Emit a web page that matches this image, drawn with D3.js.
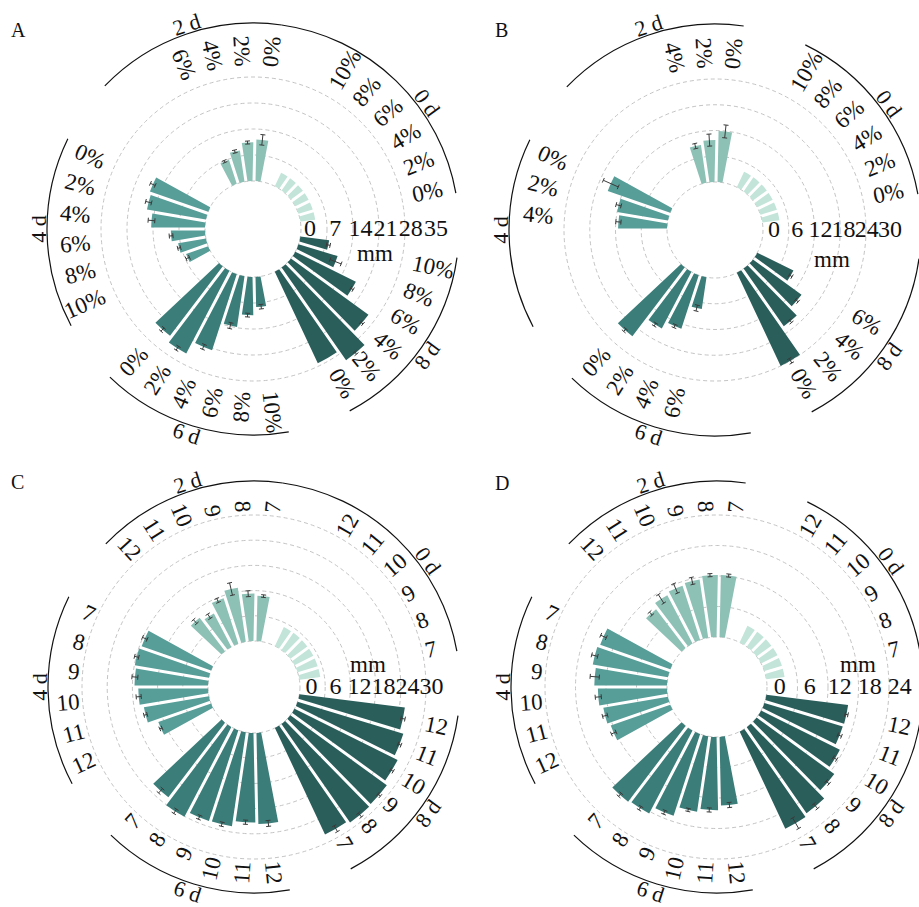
<!DOCTYPE html>
<html><head><meta charset="utf-8">
<script src="https://cdn.jsdelivr.net/npm/d3@7"></script>
<style>body{margin:0;background:#fff}svg text{font-family:"Liberation Serif","Times New Roman",serif;fill:#111}</style>
</head><body><svg id="chart" width="919" height="907"></svg>
<script>
// ---------------- data ----------------
const groupNames = ["0 d", "2 d", "4 d", "6 d", "8 d"];
const percentLabels = ["0%", "2%", "4%", "6%", "8%", "10%"];
const phLabels = ["7", "8", "9", "10", "11", "12"];

// Panel A: colony diameter (mm) by concentration, per day
const valuesA = [
  [4.0, 4.0, 4.0, 4.0, 4.0, 4.0],
  [11.2, 10.4, 8.5, 6.8],
  [16.6, 16.1, 14.5, 9.2, 7.6, 6.3],
  [23.5, 25.1, 21.5, 13.8, 10.3, 8.1],
  [27.2, 30.4, 25.8, 18.2, 11.0, 7.8]
];
const errorsA = [
  [0, 0, 0, 0, 0, 0],
  [1.4, 0.4, 0.4, 0.3],
  [0.7, 0.8, 0.9, 0.5, 0.4, 0.5],
  [0.6, 0.6, 0.7, 0.8, 0.5, 0.6],
  [0, 0.4, 0.4, 0.4, 1.6, 0.5]
];
const ticksA = [0, 7, 14, 21, 28, 35];
const gridA = [0, 7, 14, 21, 28];

// Panel B
const valuesB = [
  [4.0, 4.0, 4.0, 4.0, 4.0, 4.0],
  [11.9, 9.8, 8.9],
  [15.4, 12.0, 11.4],
  [20.2, 14.9, 13.1, 7.5],
  [24.0, 16.4, 14.0, 9.4]
];
const errorsB = [
  [0, 0, 0, 0, 0, 0],
  [1.5, 1.4, 0.6],
  [1.9, 0.6, 0.6],
  [0.4, 0.4, 0.4, 0.7],
  [0.6, 0.4, 0.4, 0.4]
];
const ticksB = [0, 6, 12, 18, 24, 30];
const gridB = [0, 6, 12, 18, 24];

// Panel C: by pH
const valuesC = [
  [5.0, 5.0, 5.0, 5.0, 5.0, 5.0],
  [10.8, 11.3, 13.0, 11.4, 9.0, 10.0],
  [17.5, 17.9, 17.5, 16.6, 15.7, 13.3],
  [22.3, 24.1, 22.7, 22.6, 21.3, 21.7],
  [28.0, 28.6, 28.4, 27.4, 26.3, 25.3]
];
const errorsC = [
  [0, 0, 0, 0, 0, 0],
  [0.3, 0.7, 1.5, 0.5, 0.6, 0.6],
  [0.6, 0.5, 0.7, 0.6, 0.4, 0.3],
  [0.7, 0.6, 0.5, 0.5, 0.5, 0.7],
  [0.8, 0.6, 0.4, 0.4, 0.4, 0.5]
];
const ticksC = [0, 6, 12, 18, 24, 30];
const gridC = [0, 6, 12, 18, 24, 30];

// Panel D
const valuesD = [
  [3.6, 3.6, 3.6, 3.6, 3.6, 3.6],
  [12.2, 12.2, 11.6, 11.2, 10.7, 9.6],
  [14.6, 15.0, 14.3, 13.6, 12.9, 12.4],
  [18.7, 18.4, 16.9, 15.0, 14.4, 13.5],
  [21.1, 20.6, 18.9, 17.3, 16.1, 16.2]
];
const errorsD = [
  [0, 0, 0, 0, 0, 0],
  [0.3, 0.3, 0.7, 1.0, 1.0, 0.4],
  [0.6, 0.6, 0.9, 0.6, 0.5, 0.5],
  [0.4, 0.4, 0.4, 0.3, 0.4, 0.5],
  [1.2, 0.6, 0.4, 0.4, 0.4, 0.3]
];
const ticksD = [0, 6, 12, 18, 24];
const gridD = [0, 6, 12, 18, 24];

const groupColors = ["#c2e4d9", "#8dc1b6", "#579d98", "#3b7d79", "#2a5e5b"];

// ---------------- layout ----------------
const panels = [
  {letter: "A", lx: 11, ly: 37, values: valuesA, errors: errorsA, labels: percentLabels, ticks: ticksA, grid: gridA,
   cx: 253, cy: 229, r0: 48, gMax: 28, rMax: 152, labelR: 163, tickR: [57, 183], mmX: 122, mmY: 24, joinTop: true},
  {letter: "B", lx: 495, ly: 37, values: valuesB, errors: errorsB, labels: percentLabels, ticks: ticksB, grid: gridB,
   cx: 715, cy: 230, r0: 48, gMax: 24, rMax: 151, labelR: 162, tickR: [59, 175], mmX: 117, mmY: 29, joinTop: false},
  {letter: "C", lx: 11, ly: 489, values: valuesC, errors: errorsC, labels: phLabels, ticks: ticksC, grid: gridC,
   cx: 254, cy: 687, r0: 46, gMax: 30, rMax: 172, labelR: 175, tickR: [57.5, 177.5], mmX: 114, mmY: -23, joinTop: true},
  {letter: "D", lx: 495, ly: 490, values: valuesD, errors: errorsD, labels: phLabels, ticks: ticksD, grid: gridD,
   cx: 717, cy: 687, r0: 50, gMax: 24, rMax: 172, labelR: 175, tickR: [62.7, 182.7], mmX: 141, mmY: -23, joinTop: false}
];

const svg = d3.select("#chart");
const slot = 9.6;            // degrees per bar slot
const groupCenter = g => 36 + 72 * g;
const rad = d => d * Math.PI / 180;
const FS = 23;

panels.forEach(p => {
  const g = svg.append("g");
  const rs = d3.scaleLinear().domain([0, p.gMax]).range([p.r0, p.rMax]);
  const pt = (r, th) => [p.cx + r * Math.cos(rad(th)), p.cy - r * Math.sin(rad(th))];

  // grid circles
  g.selectAll("circle.grid").data(p.grid).join("circle")
    .attr("cx", p.cx).attr("cy", p.cy).attr("r", d => rs(d))
    .attr("fill", "none").attr("stroke", "#c4c4c4").attr("stroke-width", 1)
    .attr("stroke-dasharray", "4,3");

  // bars
  const arc = d3.arc().padAngle(0.03).padRadius(100);
  const barData = [];
  p.values.forEach((arr, gi) => arr.forEach((v, i) => {
    const th = groupCenter(gi) + (i - 2.5) * slot;
    barData.push({gi, i, v, e: p.errors[gi][i], th});
  }));
  g.selectAll("path.bar").data(barData).join("path")
    .attr("transform", `translate(${p.cx},${p.cy})`)
    .attr("d", d => arc({innerRadius: p.r0, outerRadius: rs(d.v),
      startAngle: rad(90 - d.th - slot / 2), endAngle: rad(90 - d.th + slot / 2)}))
    .attr("fill", d => groupColors[d.gi]);

  // error bars
  const eb = g.selectAll("g.err").data(barData.filter(d => d.e > 0)).join("g");
  eb.each(function (d) {
    const s = d3.select(this);
    const ra = rs(d.v - d.e), rb = rs(d.v + d.e);
    const a = pt(ra, d.th), b = pt(rb, d.th);
    s.append("line").attr("x1", a[0]).attr("y1", a[1]).attr("x2", b[0]).attr("y2", b[1]);
    const tx = Math.sin(rad(d.th)) * 2.5, ty = Math.cos(rad(d.th)) * 2.5;
    [a, b].forEach(q => s.append("line")
      .attr("x1", q[0] - tx).attr("y1", q[1] - ty).attr("x2", q[0] + tx).attr("y2", q[1] + ty));
  });
  eb.selectAll("line").attr("stroke", "#3a3a3a").attr("stroke-width", 1);

  // category labels
  g.selectAll("text.cat").data(barData).join("text")
    .attr("font-size", FS)
    .attr("dominant-baseline", "central")
    .attr("text-anchor", d => { const t = (d.th % 360 + 360) % 360; return (t > 90 && t < 270) ? "end" : "start"; })
    .attr("transform", d => {
      const t = (d.th % 360 + 360) % 360;
      const [x, y] = pt(p.labelR, d.th);
      const rot = (t > 90 && t < 270) ? 180 - t : -t;
      return `translate(${x},${y}) rotate(${rot})`;
    })
    .text(d => p.labels[d.i]);

  // group arcs
  const spans = groupNames.map((n, gi) => {
    const c = groupCenter(gi);
    let a0 = c - 26, a1 = c + 28;
    if (p.joinTop && gi === 0) a1 = groupCenter(1) - 26;
    return {n, gi, a0, a1, c};
  });
  const R = 206;
  g.selectAll("path.garc").data(spans).join("path")
    .attr("d", d => {
      const pa = d3.path();
      const s = pt(R, d.a1);
      pa.moveTo(s[0], s[1]);
      pa.arc(p.cx, p.cy, R, rad(-d.a1), rad(-d.a0), false);
      return pa.toString();
    })
    .attr("fill", "none").attr("stroke", "#111").attr("stroke-width", 1.2);

  g.selectAll("text.gname").data(spans).join("text")
    .attr("font-size", 22).attr("text-anchor", "middle").attr("dominant-baseline", "central")
    .attr("transform", d => {
      const [x, y] = pt(215, d.c);
      const t = d.c % 360;
      const rot = t <= 180 ? 90 - t : 270 - t;
      return `translate(${x},${y}) rotate(${rot})`;
    })
    .text(d => d.n);

  // radial axis tick labels (crowded along the 0° line, as in the original)
  const tl = d3.scaleLinear().domain(d3.extent(p.ticks)).range(p.tickR);
  g.selectAll("text.tick").data(p.ticks).join("text")
    .attr("font-size", 24).attr("text-anchor", "middle").attr("dominant-baseline", "central")
    .attr("x", d => p.cx + tl(d)).attr("y", p.cy - 1)
    .text(d => d);
  g.append("text").attr("font-size", FS).attr("text-anchor", "middle").attr("dominant-baseline", "central")
    .attr("x", p.cx + p.mmX).attr("y", p.cy + p.mmY).text("mm");

  // panel letter
  g.append("text").attr("font-size", 20).attr("x", p.lx).attr("y", p.ly).text(p.letter);
});
</script>
</body></html>
